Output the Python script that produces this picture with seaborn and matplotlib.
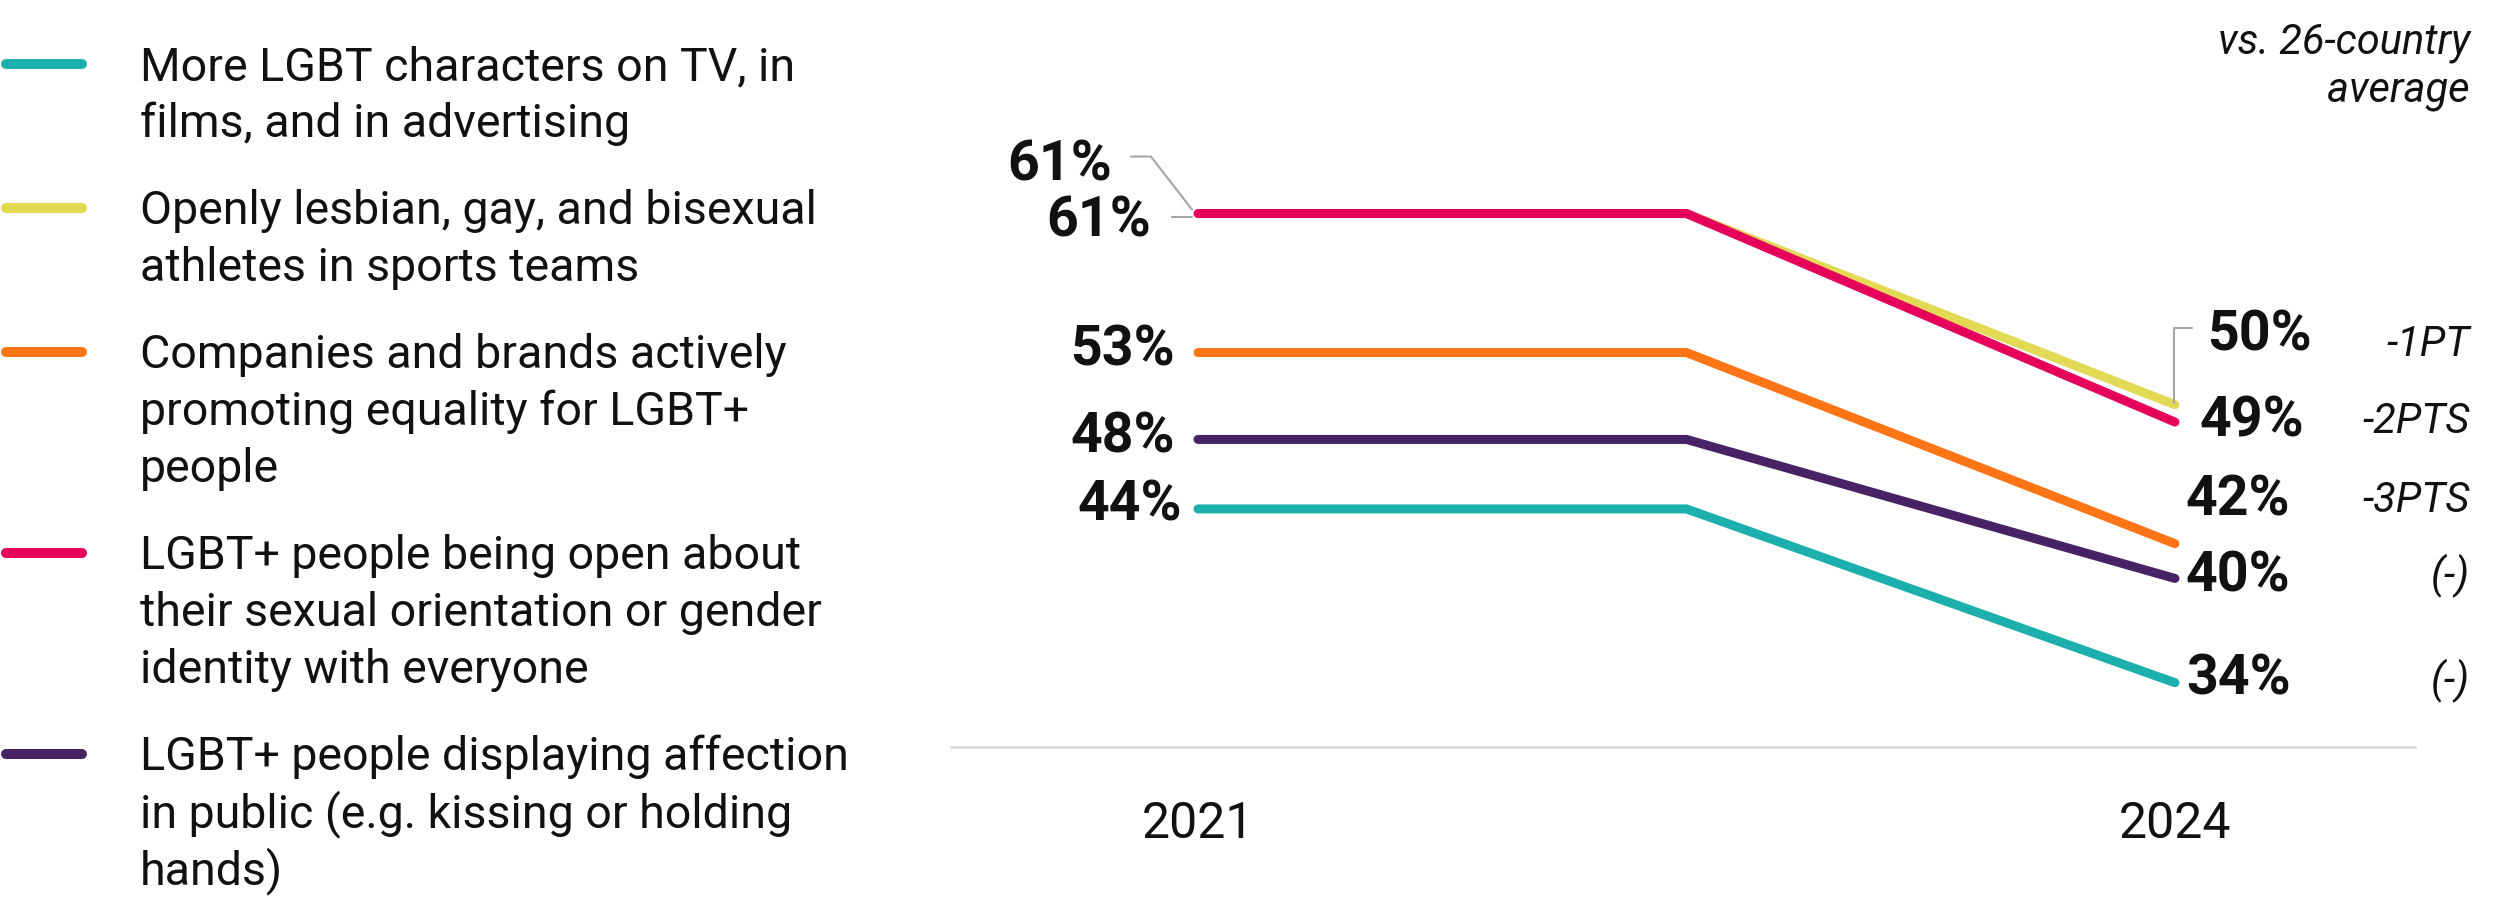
import numpy as np
import pandas as pd
import seaborn as sns
import matplotlib.pyplot as plt
from matplotlib.lines import Line2D

# Data
items = [
    "More LGBT characters on TV, in\nfilms, and in advertising",
    "Openly lesbian, gay, and bisexual\nathletes in sports teams",
    "Companies and brands actively\npromoting equality for LGBT+\npeople",
    "LGBT+ people being open about\ntheir sexual orientation or gender\nidentity with everyone",
    "LGBT+ people displaying affection\nin public (e.g. kissing or holding\nhands)",
]
share_2021 = [44, 61, 53, 61, 48]
share_2024 = [34, 50, 42, 49, 40]
vs_average = ["(-)", "-1PT", "-3PTS", "-2PTS", "(-)"]
year_labels = ["2021", "2024"]

colors = ["#1DAFAB", "#E2DA55", "#FF7415", "#E5005B", "#472366"]

# long table: the line holds flat from 2021 to the mid point, then drops to 2024
rows = []
for name, a, b in zip(items, share_2021, share_2024):
    rows.append({"item": name, "pos": 0, "share": a})
    rows.append({"item": name, "pos": 1, "share": a})
    rows.append({"item": name, "pos": 2, "share": b})
df = pd.DataFrame(rows)

sns.set_theme(style="white")
plt.rcParams["font.family"] = ["Roboto", "DejaVu Sans"]
plt.rcParams["text.color"] = "#111111"

W, H = 2499, 922
fig = plt.figure(figsize=(W / 100, H / 100), dpi=100)
ax = fig.add_axes([951 / W, 175 / H, 1464 / W, 742 / H])

sns.lineplot(data=df, x="pos", y="share", hue="item", hue_order=items,
             palette=colors, linewidth=6.5, legend=False, ax=ax,
             solid_capstyle="round", solid_joinstyle="round")

ax.set_xlim(-0.5056, 2.4914)
ax.set_ylim(30.3, 73.0)
ax.set_xticks([0, 2], year_labels)
ax.set_yticks([])
ax.set_xlabel("")
ax.set_ylabel("")
ax.tick_params(axis="x", length=0, pad=38, labelsize=36, labelcolor="#111111")
for side in ["top", "left", "right"]:
    ax.spines[side].set_visible(False)
ax.spines["bottom"].set_color("#D9D9D9")
ax.spines["bottom"].set_linewidth(1.8)

# label offsets in pixels (style only)
left_off = [(-16, 3), (-86, 48), (-23, 2), (-47, -8), (-23, 2)]
right_off = [(11, 3), (32, 69), (11, 43), (25, 1), (11, 2)]
note_dy = [2, 60, 43, 1, 2]

for i in range(len(items)):
    ax.annotate(f"{share_2021[i]}%", xy=(0, share_2021[i]), xytext=left_off[i],
                textcoords="offset pixels", ha="right", va="center",
                fontsize=40, fontweight="bold")
    ax.annotate(f"{share_2024[i]}%", xy=(2, share_2024[i]), xytext=right_off[i],
                textcoords="offset pixels", ha="left", va="center",
                fontsize=40, fontweight="bold")
    ax.annotate(vs_average[i], xy=(2470 / W, share_2024[i]),
                xycoords=("figure fraction", "data"),
                xytext=(0, note_dy[i]), textcoords="offset pixels",
                ha="right", va="center", fontsize=30, fontstyle="italic")


def px_to_fig(xd, yd, dx, dy):
    X, Y = ax.transData.transform((xd, yd))
    return (X + dx) / W, (Y + dy) / H


def leader(xd, yd, offsets):
    pts = [px_to_fig(xd, yd, dx, dy) for dx, dy in offsets]
    fig.add_artist(Line2D([p[0] for p in pts], [p[1] for p in pts],
                          color="#A6A6A6", lw=1.5))


leader(0, share_2021[1], [(-6, 4), (-47, 57), (-67, 57)])
leader(0, share_2021[3], [(-6, -3), (-26, -3)])
leader(2, share_2024[1], [(-1, 2), (-1, 77), (17, 77)])

fig.text(2470 / W, 1 - 22 / H, "vs. 26-country\naverage", ha="right", va="top",
         fontsize=30, fontstyle="italic", linespacing=1.2)

# legend on the left: one text per wrapped line, baselines flow down the page
base = 80
for name, c in zip(items, colors):
    y_mark = 1 - (base - 16) / H
    fig.add_artist(Line2D([6 / W, 82 / W], [y_mark, y_mark], color=c,
                          lw=7.2, solid_capstyle="round"))
    for line in name.split("\n"):
        fig.text(140 / W, 1 - base / H, line, ha="left", va="baseline",
                 fontsize=33.5)
        base += 57
    base += 30

fig.savefig("out.png", dpi=100)
